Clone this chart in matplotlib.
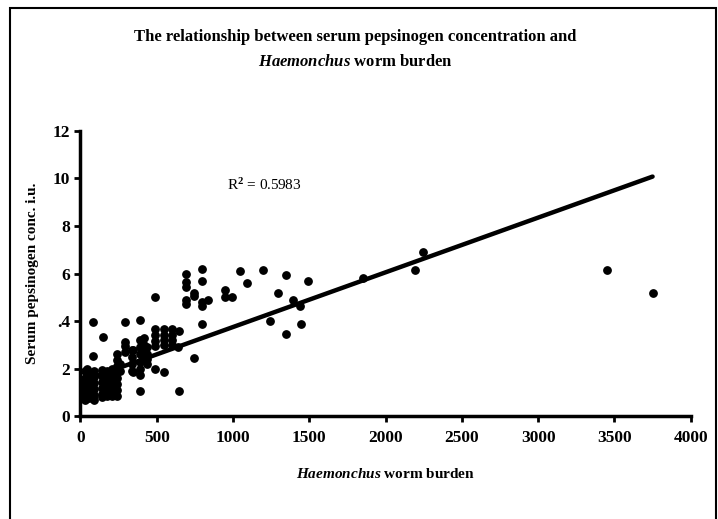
import matplotlib.pyplot as plt
from matplotlib.patches import Rectangle

# Worm burden (x) and serum pepsinogen (y)
worm_burden = [
    10, 10, 15,
    30, 30, 30, 30, 30, 30,
    55, 55, 55, 55, 55,
    40,
    90, 90, 90, 90, 90, 90,
    85, 145, 85,
    140, 140, 140, 140, 140, 140,
    175, 175, 175, 175, 175,
    205, 205, 205, 205, 205, 205,
    240, 240, 240, 240, 240, 240, 240, 240,
    260, 260,
    290, 290, 290, 290,
    335, 335, 335, 335,
    345, 345,
    390, 390, 390, 390, 390, 390, 390, 390,
    420, 420, 420,
    435, 435, 435, 435,
    490, 490, 490, 490, 490, 490,
    545, 545, 545, 545, 545,
    597, 597, 597, 597,
    645, 640, 645,
    695, 695, 695, 695, 695,
    745, 745, 745,
    798, 798, 798, 798, 798,
    837,
    945, 945, 994,
    1045, 1090, 1195, 1245, 1295, 1345, 1345, 1395, 1440, 1445, 1490,
    1850, 2195, 2245, 3450, 3750,
]
pepsinogen = [
    1.5, 1.2, 0.9,
    1.9, 1.6, 1.35, 1.1, 0.85, 0.7,
    1.8, 1.5, 1.25, 1.0, 0.75,
    2.0,
    1.9, 1.65, 1.4, 1.15, 0.9, 0.7,
    2.55, 3.35, 3.95,
    1.95, 1.7, 1.45, 1.2, 0.95, 0.8,
    1.9, 1.6, 1.35, 1.1, 0.85,
    2.0, 1.75, 1.5, 1.25, 1.0, 0.85,
    2.6, 2.35, 2.1, 1.85, 1.6, 1.35, 1.1, 0.85,
    2.2, 1.9,
    3.95, 3.1, 2.95, 2.7,
    2.8, 2.5, 2.2, 1.9,
    2.8, 1.87,
    4.05, 3.2, 2.9, 2.6, 2.3, 2.0, 1.75, 1.08,
    3.3, 3.0, 2.75,
    2.9, 2.6, 2.4, 2.2,
    5.0, 3.65, 3.4, 3.15, 2.95, 2.0,
    3.65, 3.4, 3.2, 3.0, 1.87,
    3.65, 3.4, 3.2, 3.0,
    3.6, 2.9, 1.05,
    6.0, 5.65, 5.45, 4.88, 4.73,
    5.2, 5.05, 2.45,
    6.17, 5.7, 4.8, 4.65, 3.87,
    4.88,
    5.3, 5.02, 5.0,
    6.1, 5.6, 6.15, 4.0, 5.2, 5.95, 3.45, 4.9, 4.65, 3.87, 5.7,
    5.8, 6.15, 6.9, 6.15, 5.2,
]

# Linear trendline as printed on the chart
fit_intercept = 1.45
fit_slope = 0.0023
fit_range = [0, 3750]
r_squared = "0.5983"

x_ticks = [0, 500, 1000, 1500, 2000, 2500, 3000, 3500, 4000]
y_ticks = [0, 2, 4, 6, 8, 10, 12]
y_tick_labels = ["0", "2", ".4", "6", "8", "10", "12"]


def main():
    plt.rcParams["font.family"] = ["Liberation Serif", "DejaVu Serif"]
    plt.rcParams["mathtext.fontset"] = "custom"
    plt.rcParams["mathtext.it"] = "Liberation Serif:italic:bold"
    plt.rcParams["mathtext.rm"] = "Liberation Serif:bold"

    fig = plt.figure(figsize=(7.18, 5.19), dpi=100)
    ax = fig.add_axes([0.112, 0.198, 0.850, 0.550])

    ax.scatter(worm_burden, pepsinogen, s=28, color="black", zorder=3)
    fit_y = [fit_intercept + fit_slope * x for x in fit_range]
    ax.plot(fit_range, fit_y, color="black", linewidth=3.2, solid_capstyle="round", zorder=4)

    ax.text(960, 9.5, "R$^2$ = " + r_squared, fontsize=11)

    ax.set_xlim(0, 4000)
    ax.set_ylim(0, 12)
    ax.set_xticks(x_ticks)
    ax.set_yticks(y_ticks)
    ax.set_yticklabels(y_tick_labels)
    ax.tick_params(axis="both", direction="out", length=4, width=2, labelsize=12.5)
    ax.tick_params(axis="x", pad=6)
    for lab in ax.get_xticklabels() + ax.get_yticklabels():
        lab.set_fontweight("bold")

    for side in ["top", "right"]:
        ax.spines[side].set_visible(False)
    for side in ["left", "bottom"]:
        ax.spines[side].set_linewidth(2.5)

    ax.set_xlabel(r"$\mathit{Haemonchus}$ worm burden", fontsize=11, fontweight="bold", labelpad=15)
    ax.set_ylabel("Serum pepsinogen conc. i.u.", fontsize=11, fontweight="bold", labelpad=10)

    fig.text(0.495, 0.928, "The relationship between serum pepsinogen concentration and",
             ha="center", va="center", fontsize=12, fontweight="bold")
    fig.text(0.495, 0.880, r"$\mathit{Haemonchus}$ worm burden",
             ha="center", va="center", fontsize=12, fontweight="bold")

    # page frame around the chart
    fig.patches.append(Rectangle((0.014, -0.05), 0.983, 1.035, transform=fig.transFigure,
                                 fill=False, edgecolor="black", linewidth=1.5))

    fig.savefig("out.png", dpi=100)
    plt.close(fig)


if __name__ == "__main__":
    main()
